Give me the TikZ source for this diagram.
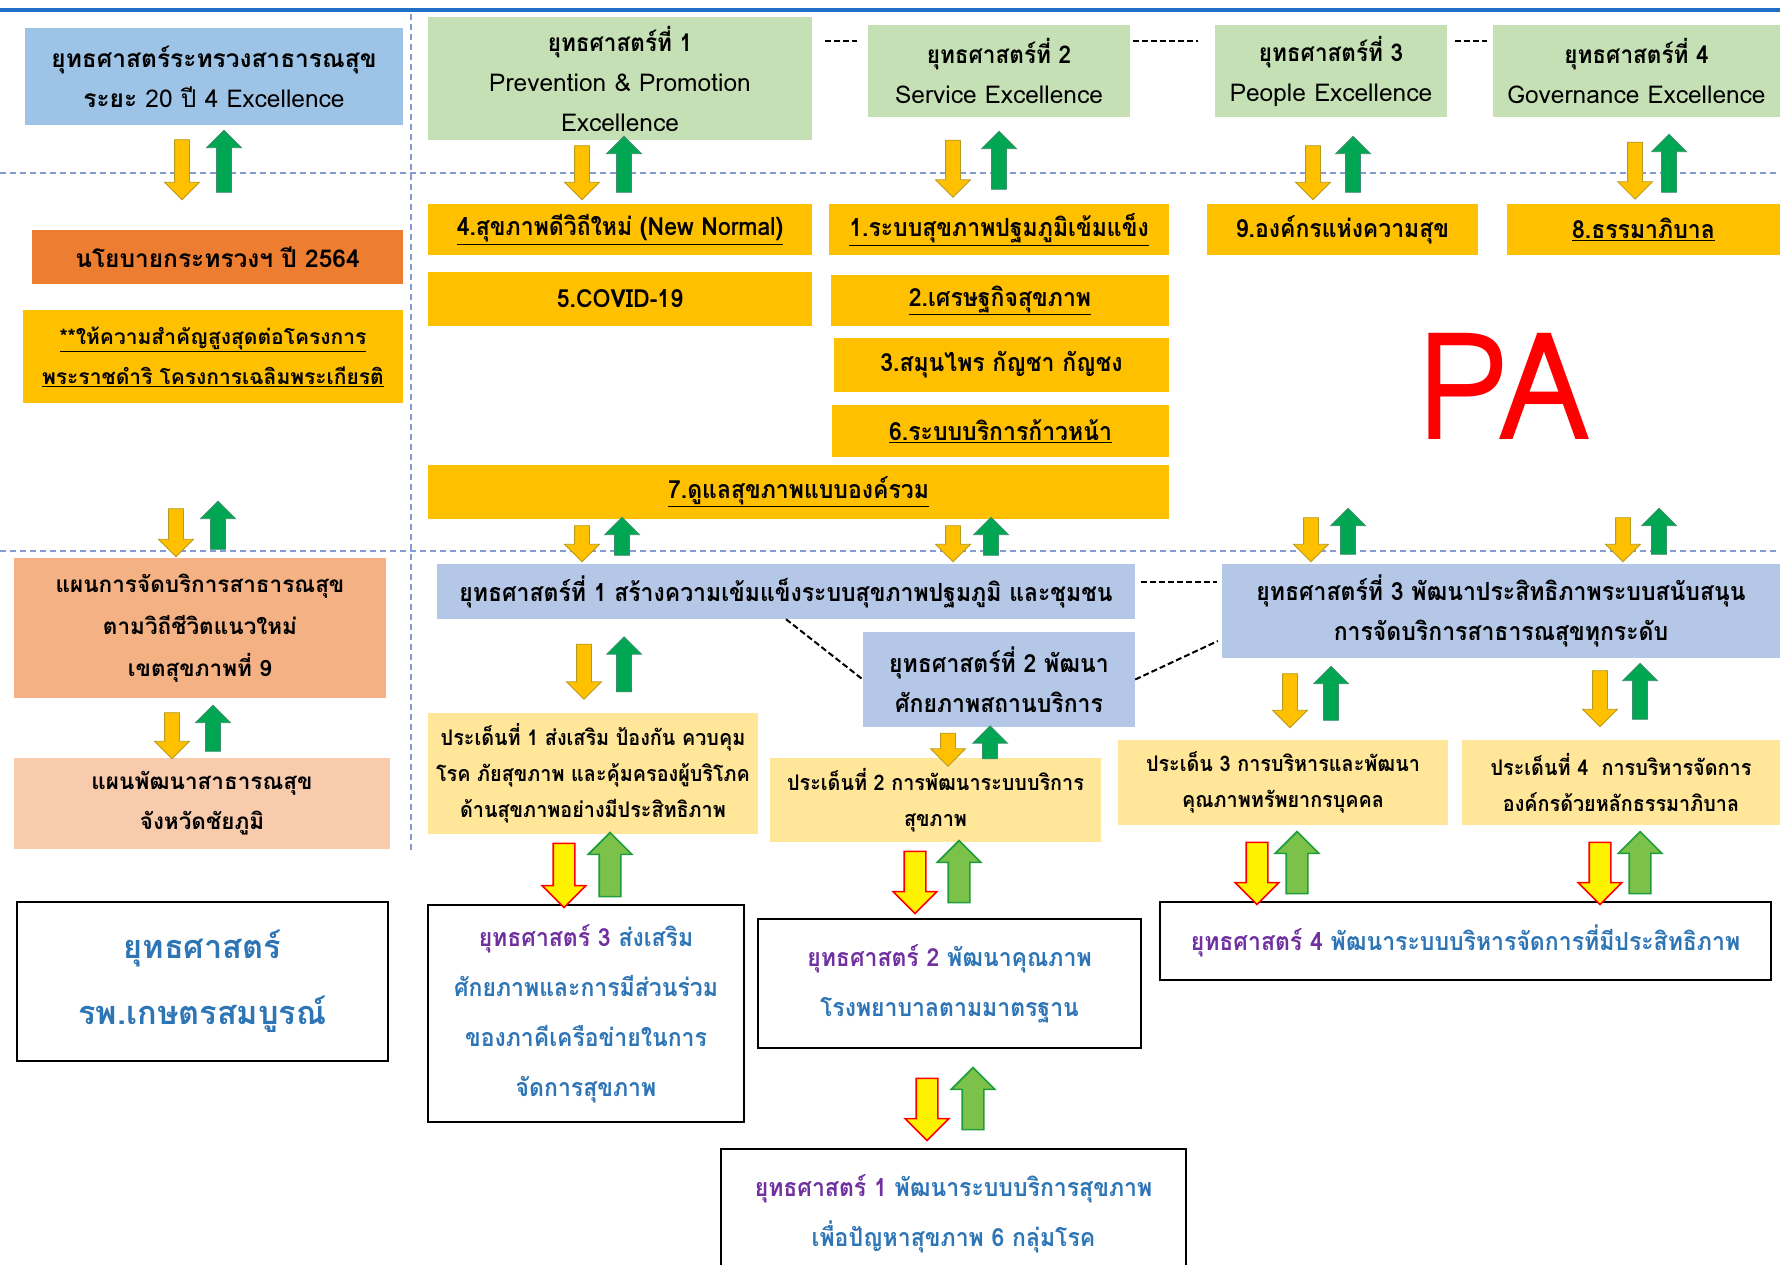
\documentclass[tikz,border=0pt]{standalone}
\usepackage{fontspec}
\setmainfont{Loma}[Script=Thai]
\newfontfamily\thcond{Loma}[Script=Thai,FakeStretch=0.92]
\newfontfamily\pafont{Loma}[FakeStretch=0.9]
\usetikzlibrary{shapes.arrows}

\definecolor{skyfill}{HTML}{9DC3E6}
\definecolor{mintfill}{HTML}{C5E0B4}
\definecolor{orangefill}{HTML}{ED7D31}
\definecolor{goldfill}{HTML}{FFC000}
\definecolor{salmonfill}{HTML}{F4B183}
\definecolor{peachfill}{HTML}{F8CBAD}
\definecolor{lavfill}{HTML}{B4C7E7}
\definecolor{creamfill}{HTML}{FFE699}
\definecolor{stratpurple}{HTML}{7030A0}
\definecolor{stratblue}{HTML}{2E75B6}
\definecolor{yedge}{HTML}{B89A1E}
\definecolor{gfill}{HTML}{00A651}
\definecolor{gedge}{HTML}{3A8F6A}
\definecolor{lgfill}{HTML}{7CC24A}
\definecolor{lgedge}{HTML}{1E9E3A}
\definecolor{sepblue}{HTML}{5470C0}
\definecolor{topblue}{HTML}{2070C8}

\tikzset{
  box/.style={rectangle, inner sep=0pt, align=center, text=black},
  topfont/.style={font=\fontsize{24.5}{40}\selectfont},
  condfont/.style={font=\thcond\bfseries\fontsize{25}{40}\selectfont},
  issuefont/.style={font=\thcond\bfseries\fontsize{21.5}{36}\selectfont},
  stratfont/.style={font=\thcond\bfseries\fontsize{25}{50}\selectfont},
  arrowbase/.style={single arrow, single arrow head extend=10pt, inner sep=7pt, line width=0.8pt},
  ydown/.style={arrowbase, rotate=-90, fill=goldfill, draw=yedge, minimum height=#1},
  gup/.style={arrowbase, rotate=90, fill=gfill, draw=gedge, minimum height=#1},
  bigarrow/.style={single arrow, single arrow head extend=11pt, inner sep=10pt, line width=1.6pt},
  rdown/.style={bigarrow, rotate=-90, fill=yellow, draw=red, minimum height=#1},
  lgup/.style={bigarrow, rotate=90, fill=lgfill, draw=lgedge, minimum height=#1},
  blkdash/.style={black, line width=2pt, dash pattern=on 6pt off 3pt},
  sepline/.style={sepblue!70, line width=1.2pt, dash pattern=on 6pt off 4pt},
}

\begin{document}
\begin{tikzpicture}[x=1pt,y=-1pt]
\useasboundingbox (0,0) rectangle (1780,1264);
\fill[white] (0,0) rectangle (1780,1264);

% frame lines
\draw[topblue, line width=4pt] (0,10) -- (1780,10);
\draw[sepline] (411,14) -- (411,851);
\draw[sepline] (0,173) -- (1780,173);
\draw[sepline] (0,551) -- (1780,551);

% national strategy row
\node[box, topfont, fill=skyfill, minimum width=378, minimum height=97] (moph) at (214,76.5)
  {\bfseries ยุทธศาสตร์ระทรวงสาธารณสุข\\{\bfseries ระยะ} 20 ปี 4 Excellence};
\node[box, topfont, fill=mintfill, minimum width=384, minimum height=123] (g1) at (620,78.5)
  {{\thcond\bfseries ยุทธศาสตร์ที่ 1}\\Prevention \& Promotion\\Excellence};
\node[box, topfont, fill=mintfill, minimum width=262, minimum height=92] (g2) at (999,71)
  {{\thcond\bfseries ยุทธศาสตร์ที่ 2}\\Service Excellence};
\node[box, topfont, fill=mintfill, minimum width=232, minimum height=92] (g3) at (1331,71)
  {{\thcond\bfseries ยุทธศาสตร์ที่ 3}\\People Excellence};
\node[box, topfont, fill=mintfill, minimum width=287, minimum height=92] (g4) at (1636.5,71)
  {{\thcond\bfseries ยุทธศาสตร์ที่ 4}\\Governance Excellence};

\draw[blkdash] ([shift={(13,24)}]g1.north east) -- ([shift={(-11,16)}]g2.north west);
\draw[blkdash] ([shift={(3,16)}]g2.north east) -- ([shift={(-17,16)}]g3.north west);
\draw[blkdash] ([shift={(8,16)}]g3.north east) -- ([shift={(-6,16)}]g4.north west);

% ministry policy
\node[box, font=\bfseries\fontsize{24.5}{40}\selectfont, fill=orangefill, minimum width=371, minimum height=54] (policy) at (217.5,257)
  {นโยบายกระทรวงฯ ปี 2564};
\node[box, font=\bfseries\fontsize{21}{40}\selectfont, fill=goldfill, minimum width=380, minimum height=93] (royal) at (213,356.5)
  {\underline{**ให้ความสำคัญสูงสุดต่อโครงการ}\\\underline{พระราชดำริ โครงการเฉลิมพระเกียรติ}};

\node[box, condfont, fill=goldfill, minimum width=384, minimum height=51] (p4) at (620,229.5)
  {\underline{4.สุขภาพดีวิถีใหม่ (New Normal)}};
\node[box, condfont, fill=goldfill, minimum width=340, minimum height=51] (p1) at (999,229.5)
  {\underline{1.ระบบสุขภาพปฐมภูมิเข้มแข็ง}};
\node[box, condfont, fill=goldfill, minimum width=271, minimum height=51] (p9) at (1342.5,229.5)
  {9.องค์กรแห่งความสุข};
\node[box, condfont, fill=goldfill, minimum width=273, minimum height=51] (p8) at (1643.5,229.5)
  {\underline{8.ธรรมาภิบาล}};
\node[box, condfont, fill=goldfill, minimum width=384, minimum height=54] (p5) at (620,299)
  {5.COVID-19};
\node[box, condfont, fill=goldfill, minimum width=338, minimum height=51] (p2) at (1000,300.5)
  {\underline{2.เศรษฐกิจสุขภาพ}};
\node[box, condfont, fill=goldfill, minimum width=335, minimum height=54] (p3) at (1001.5,365)
  {3.สมุนไพร กัญชา กัญชง};
\node[box, condfont, fill=goldfill, minimum width=337, minimum height=52] (p6) at (1000.5,431)
  {\underline{6.ระบบบริการก้าวหน้า}};
\node[box, condfont, fill=goldfill, minimum width=741, minimum height=54] (p7) at (798.5,492)
  {\underline{7.ดูแลสุขภาพแบบองค์รวม}};

\node[text=red, font=\pafont\fontsize{150}{150}\selectfont] (pa) at (1504,386) {PA};

% region and province plans
\node[box, font=\bfseries\fontsize{22.5}{42}\selectfont, fill=salmonfill, minimum width=372, minimum height=140] (region) at (200,628)
  {แผนการจัดบริการสาธารณสุข\\ตามวิถีชีวิตแนวใหม่\\เขตสุขภาพที่ 9};
\node[box, font=\bfseries\fontsize{22.5}{40}\selectfont, fill=peachfill, minimum width=376, minimum height=91] (prov) at (202,803.5)
  {แผนพัฒนาสาธารณสุข\\จังหวัดชัยภูมิ};
\node[box, font=\bfseries\fontsize{32.5}{66}\selectfont, text=stratblue, draw=black, line width=1.2pt, minimum width=371, minimum height=159] (hosp) at (202.5,981.5)
  {ยุทธศาสตร์\\รพ.เกษตรสมบูรณ์};

% region strategies
\node[box, condfont, fill=lavfill, minimum width=698, minimum height=55] (r1) at (786,591.5)
  {ยุทธศาสตร์ที่ 1 สร้างความเข้มแข็งระบบสุขภาพปฐมภูมิ และชุมชน};
\node[box, condfont, fill=lavfill, minimum width=272, minimum height=95] (r2) at (999,679.5)
  {ยุทธศาสตร์ที่ 2 พัฒนา\\ศักยภาพสถานบริการ};
\node[box, condfont, fill=lavfill, minimum width=558, minimum height=94] (r3) at (1501,611)
  {ยุทธศาสตร์ที่ 3 พัฒนาประสิทธิภาพระบบสนับสนุน\\การจัดบริการสาธารณสุขทุกระดับ};

\draw[blkdash] (r1.south) -- (r2.west);
\draw[blkdash] (r2.east) -- ([shift={(-4,30)}]r3.west);
\draw[blkdash] ([shift={(6,-9.5)}]r1.east) -- ([shift={(-5,-29)}]r3.west);

\node[box, issuefont, fill=creamfill, minimum width=330, minimum height=121] (i1) at (593,773.5)
  {ประเด็นที่ 1 ส่งเสริม ป้องกัน ควบคุม\\โรค ภัยสุขภาพ และคุ้มครองผู้บริโภค\\ด้านสุขภาพอย่างมีประสิทธิภาพ};
\node[box, issuefont, fill=creamfill, minimum width=331, minimum height=84] (i2) at (935.5,800)
  {ประเด็นที่ 2 การพัฒนาระบบบริการ\\สุขภาพ};
\node[box, issuefont, fill=creamfill, minimum width=330, minimum height=85] (i3) at (1283,782.5)
  {ประเด็น 3 การบริหารและพัฒนา\\คุณภาพทรัพยากรบุคคล};
\node[box, issuefont, fill=creamfill, minimum width=318, minimum height=85] (i4) at (1621,782.5)
  {ประเด็นที่ 4~ การบริหารจัดการ\\องค์กรด้วยหลักธรรมาภิบาล};

% hospital strategies
\node[box, stratfont, text=stratblue, draw=black, line width=1.2pt, minimum width=316, minimum height=217] (h3) at (586,1013.5)
  {{\color{stratpurple}ยุทธศาสตร์ 3} ส่งเสริม\\ศักยภาพและการมีส่วนร่วม\\ของภาคีเครือข่ายในการ\\จัดการสุขภาพ};
\node[box, stratfont, text=stratblue, draw=black, line width=1.2pt, minimum width=383, minimum height=129] (h2) at (949.5,983.5)
  {{\color{stratpurple}ยุทธศาสตร์ 2} พัฒนาคุณภาพ\\โรงพยาบาลตามมาตรฐาน};
\node[box, stratfont, text=stratblue, draw=black, line width=1.2pt, minimum width=611, minimum height=78] (h4) at (1465.5,941)
  {{\color{stratpurple}ยุทธศาสตร์ 4} พัฒนาระบบบริหารจัดการที่มีประสิทธิภาพ};
\node[box, stratfont, text=stratblue, draw=black, line width=1.2pt, minimum width=465, minimum height=130] (h1) at (953.5,1214)
  {{\color{stratpurple}ยุทธศาสตร์ 1} พัฒนาระบบบริการสุขภาพ\\เพื่อปัญหาสุขภาพ 6 กลุ่มโรค};

% two-way arrows
\node[ydown=60] (dn1) at (182,166) {};
\node[gup=62] (up1) at (224,165) {};
\node[ydown=54] (dn2) at (582,169) {};
\node[gup=56] (up2) at (624,168) {};
\node[ydown=57] (dn3) at (953,165) {};
\node[gup=58] (up3) at (999,164) {};
\node[ydown=54] (dn4) at (1313,169) {};
\node[gup=56] (up4) at (1353,168) {};
\node[ydown=57] (dn5) at (1635,167) {};
\node[gup=58] (up5) at (1669,167) {};

\node[ydown=48] (dn6) at (176,529) {};
\node[gup=48] (up6) at (218,529) {};
\node[ydown=36] (dn7) at (582,540) {};
\node[gup=38] (up7) at (622,540) {};
\node[ydown=36] (dn8) at (953,540) {};
\node[gup=38] (up8) at (991,540) {};
\node[ydown=44] (dn9) at (1311,536) {};
\node[gup=46] (up9) at (1348,535) {};
\node[ydown=44] (dn10) at (1623,536) {};
\node[gup=46] (up10) at (1659,535) {};

\node[ydown=46] (dn11) at (172,732) {};
\node[gup=46] (up11) at (213,732) {};
\node[ydown=55] (dn12) at (584,668) {};
\node[gup=55] (up12) at (624,668) {};
\node[ydown=33] (dn13) at (948,746) {};
\node[gup=33] (up13) at (990,746) {};
\node[ydown=54] (dn14) at (1290,697) {};
\node[gup=54] (up14) at (1331,697) {};
\node[ydown=56] (dn15) at (1600,695) {};
\node[gup=56] (up15) at (1640,695) {};

\node[rdown=64] (dn16) at (564,870) {};
\node[lgup=64] (up16) at (610,870) {};
\node[rdown=62] (dn17) at (915,877) {};
\node[lgup=62] (up17) at (959,877) {};
\node[rdown=62] (dn18) at (1257,868) {};
\node[lgup=62] (up18) at (1297,868) {};
\node[rdown=62] (dn19) at (1600,868) {};
\node[lgup=62] (up19) at (1640,868) {};
\node[rdown=62] (dn20) at (927,1104) {};
\node[lgup=62] (up20) at (973,1104) {};
\end{tikzpicture}
\end{document}
